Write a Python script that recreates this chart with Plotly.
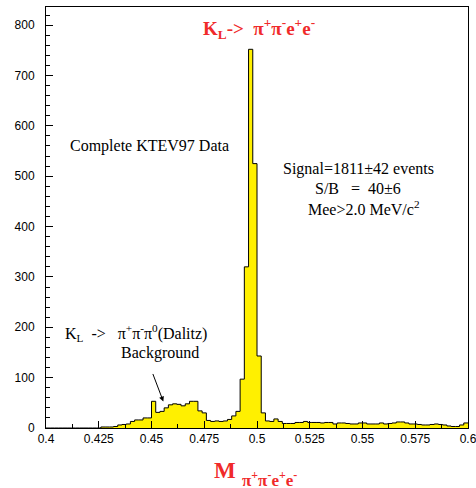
import numpy as np
import plotly.graph_objects as go

# Histogram: M(pi+pi-e+e-) [GeV/c^2], 100 bins from 0.4 to 0.6
x_min = 0.4
x_max = 0.6
n_bins = 100
counts = (
    [0] * 13
    + [2, 2, 2, 3]
    + [6, 7, 8, 13, 16, 16, 20, 20]
    + [53, 31, 33, 40, 46, 48, 47, 44, 48, 53, 53, 34, 30]
    + [15, 13, 14, 13, 14, 17, 24, 33]
    + [97, 320, 752, 525, 143, 30]
    + [14, 13, 18, 13, 9, 9, 9, 11, 11, 13, 11, 11, 11, 10, 11, 11, 8, 10, 10, 9]
    + [8, 8, 10, 10, 8, 8, 8, 10, 8, 9, 10, 12, 12, 10, 8, 8, 7, 6, 6, 7, 8, 7, 6, 4, 3, 3, 6, 10]
)
x_ticks = [0.4, 0.425, 0.45, 0.475, 0.5, 0.525, 0.55, 0.575, 0.6]
x_tick_labels = ["0.4", "0.425", "0.45", "0.475", "0.5", "0.525", "0.55", "0.575", "0.6"]
y_tick_step = 100

bin_w = (x_max - x_min) / n_bins
edges = x_min + bin_w * np.arange(n_bins + 1)
ys = counts + [counts[-1]]

RED = "#f02a2a"
SERIF = "Liberation Serif"
SANS = "Liberation Sans"

fig = go.Figure()
fig.add_trace(go.Scatter(
    x=edges, y=ys, mode="lines",
    line=dict(color="black", width=1, shape="hv"),
    fill="tozeroy", fillcolor="#fff000",
    hoverinfo="skip", showlegend=False,
))

fig.update_layout(
    width=476, height=488,
    margin=dict(l=46, r=8, t=7, b=60),
    paper_bgcolor="white", plot_bgcolor="white",
    showlegend=False,
)
fig.update_xaxes(
    range=[x_min, x_max], tickmode="array", tickvals=x_ticks, ticktext=x_tick_labels,
    ticks="inside", ticklen=7, tickcolor="black", tickwidth=1,
    minor=dict(tickmode="linear", tick0=x_min, dtick=0.0125, ticks="inside", ticklen=4, tickcolor="black"),
    showline=True, linecolor="black", linewidth=1, mirror=True,
    showgrid=False, zeroline=False,
    ticklabeloverflow="allow", automargin=False,
    tickfont=dict(family=SANS, size=12, color="black"),
)
fig.update_yaxes(
    range=[0, 836], tick0=0, dtick=y_tick_step,
    ticks="inside", ticklen=7, tickcolor="black", tickwidth=1,
    minor=dict(dtick=20, ticks="inside", ticklen=4, tickcolor="black"),
    showline=True, linecolor="black", linewidth=1, mirror=True,
    showgrid=False, zeroline=False,
    ticklabelstandoff=8, automargin=False,
    tickfont=dict(family=SANS, size=12, color="black"),
)

def ann(text, x, y, size, color="black", bold=False, **kw):
    if bold:
        text = "<b>" + text + "</b>"
    fig.add_annotation(text=text, x=x, y=y, xref="paper", yref="paper",
                       showarrow=False, xanchor="center", yanchor="middle",
                       font=dict(family=SERIF, size=size, color=color), **kw)

ann("K<sub>L</sub>-&gt;  π<sup>+</sup>π<sup>-</sup>e<sup>+</sup>e<sup>-</sup>", 0.505, 0.948, 19, RED, bold=True)
ann("Complete KTEV97 Data", 0.246, 0.670, 16)
ann("Signal=1811±42 events", 0.741, 0.615, 16)
ann("S/B   =  40±6", 0.740, 0.570, 16)
ann("Mee&gt;2.0 MeV/c<sup>2</sup>", 0.753, 0.522, 16)
ann("K<sub>L</sub>  -&gt;   π<sup>+</sup>π<sup>-</sup>π<sup>0</sup>(Dalitz)", 0.214, 0.225, 16)
ann("Background", 0.270, 0.178, 16)
ann("M", 0.425, -0.100, 23, RED, bold=True)
ann("π<sup>+</sup>π<sup>-</sup>e<sup>+</sup>e<sup>-</sup>", 0.530, -0.120, 17, RED, bold=True)

fig.add_annotation(
    x=0.278, y=0.063, xref="paper", yref="paper",
    ax=-11, ay=-29, showarrow=True, arrowhead=2, arrowsize=1, arrowwidth=1,
    arrowcolor="black", text="",
)

fig.write_html(
    "out.html",
    config={"displayModeBar": False},
    post_script="document.body.style.margin='0';document.body.style.overflow='hidden';",
)
